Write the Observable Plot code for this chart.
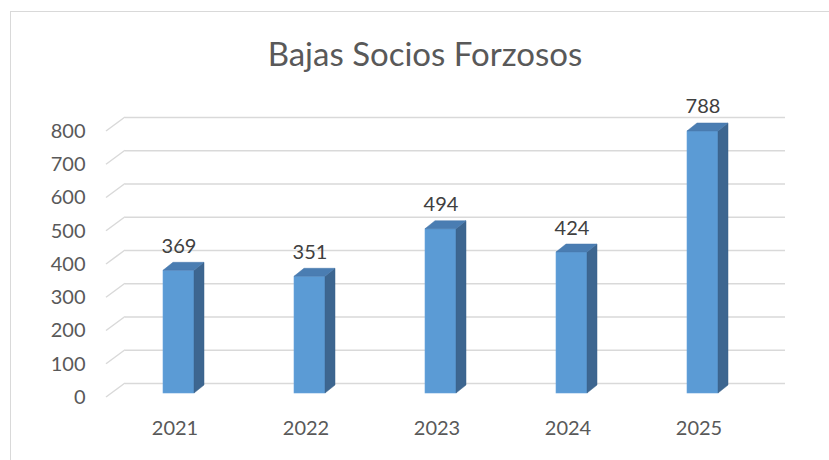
<!DOCTYPE html>
<html><head><meta charset="utf-8">
<script src="https://cdn.jsdelivr.net/npm/d3@7"></script>
<script src="https://cdn.jsdelivr.net/npm/@observablehq/plot@0.6"></script>
<style>
body{margin:0;background:#fff;}
#wrap{position:relative;width:829px;height:460px;overflow:hidden;background:#fff;}
#border{position:absolute;left:10px;top:11px;width:900px;height:600px;border:1px solid #d9d9d9;box-sizing:border-box;}
#chart{position:absolute;left:0;top:0;}
</style></head><body>
<div id="wrap"><div id="border"></div><div id="chart"></div></div>
<script>
const title = "Bajas Socios Forzosos";
const years = ["2021", "2022", "2023", "2024", "2025"];
const values = [369, 351, 494, 424, 788];
const yTicks = [0, 100, 200, 300, 400, 500, 600, 700, 800];

const data = years.map((year, i) => ({year, value: values[i]}));

// 3D geometry (pixels)
const BAR_DX = 10, BAR_DY = 8;       // bar depth
const WALL_DX = 14, WALL_DY = -10;   // back wall offset from bar plane
const FRONT_DX = -5, FRONT_DY = 4;   // front floor edge offset from bar plane
const BAR_INSET = 50;

function diagRender(index, scales, vals, dims) {
  const g = d3.create("svg:g");
  const xl = dims.marginLeft;
  for (const i of index) {
    const y = vals.y[i];
    g.append("line")
      .attr("x1", xl + FRONT_DX).attr("y1", y + FRONT_DY)
      .attr("x2", xl + WALL_DX).attr("y2", y + WALL_DY)
      .attr("stroke", "#d9d9d9").attr("stroke-width", 1.5);
  }
  return g.node();
}

function depthRender(index, scales, vals, dims, ctx, next) {
  const g = d3.create("svg:g");
  const bw = scales.x.bandwidth();
  for (const i of index) {
    const d = data[i];
    const x0 = scales.x(d.year) + BAR_INSET;
    const x1 = scales.x(d.year) + bw - BAR_INSET;
    const yt = scales.y(d.value);
    const yb = scales.y(0);
    g.append("polygon")
      .attr("points", [[x1, yb], [x1 + BAR_DX, yb - BAR_DY], [x1 + BAR_DX, yt - BAR_DY], [x1, yt]].join(" "))
      .attr("fill", "#3d6690").attr("stroke", "#3a6288").attr("stroke-width", 0.5);
    g.append("polygon")
      .attr("points", [[x0, yt], [x0 + BAR_DX, yt - BAR_DY], [x1 + BAR_DX, yt - BAR_DY], [x1, yt]].join(" "))
      .attr("fill", "#4a7db2").attr("stroke", "#4677aa").attr("stroke-width", 0.5);
  }
  return g.node();
}

const plot = Plot.plot({
  width: 829,
  height: 460,
  marginLeft: 111,
  marginRight: 59,
  marginTop: 127,
  marginBottom: 67,
  style: {fontFamily: "Lato, 'Open Sans', sans-serif", fontSize: "20px", color: "#595959", background: "transparent", overflow: "visible"},
  x: {type: "band", domain: years, padding: 0, label: null},
  y: {domain: [0, 800], label: null},
  marks: [
    Plot.ruleY(yTicks, {dx: WALL_DX, dy: WALL_DY, stroke: "#d9d9d9", strokeWidth: 1.5, insetRight: -1}),
    Plot.ruleY(yTicks, {y: d => d, render: diagRender}),
    Plot.axisY({ticks: yTicks, tickSize: 0, tickPadding: 26, dy: FRONT_DY, fontSize: 20, label: null}),
    Plot.axisX({tickSize: 0, tickPadding: 27, dx: -4, fontSize: 20, label: null}),
    Plot.barY(data, {x: "year", y: "value", fill: "#5b9bd5", stroke: "#6aa6dc", strokeWidth: 0.6, insetLeft: BAR_INSET, insetRight: BAR_INSET}),
    Plot.barY(data, {x: "year", y: "value", render: depthRender}),
    Plot.text(data, {x: "year", y: "value", text: d => String(d.value), lineAnchor: "bottom", dy: -18, fill: "#404040", fontSize: 20}),
    Plot.text([title], {frameAnchor: "top", dx: -16, dy: -72, lineAnchor: "middle", fontSize: 33, fill: "#595959"})
  ]
});
document.getElementById("chart").append(plot);
</script>
</body></html>
